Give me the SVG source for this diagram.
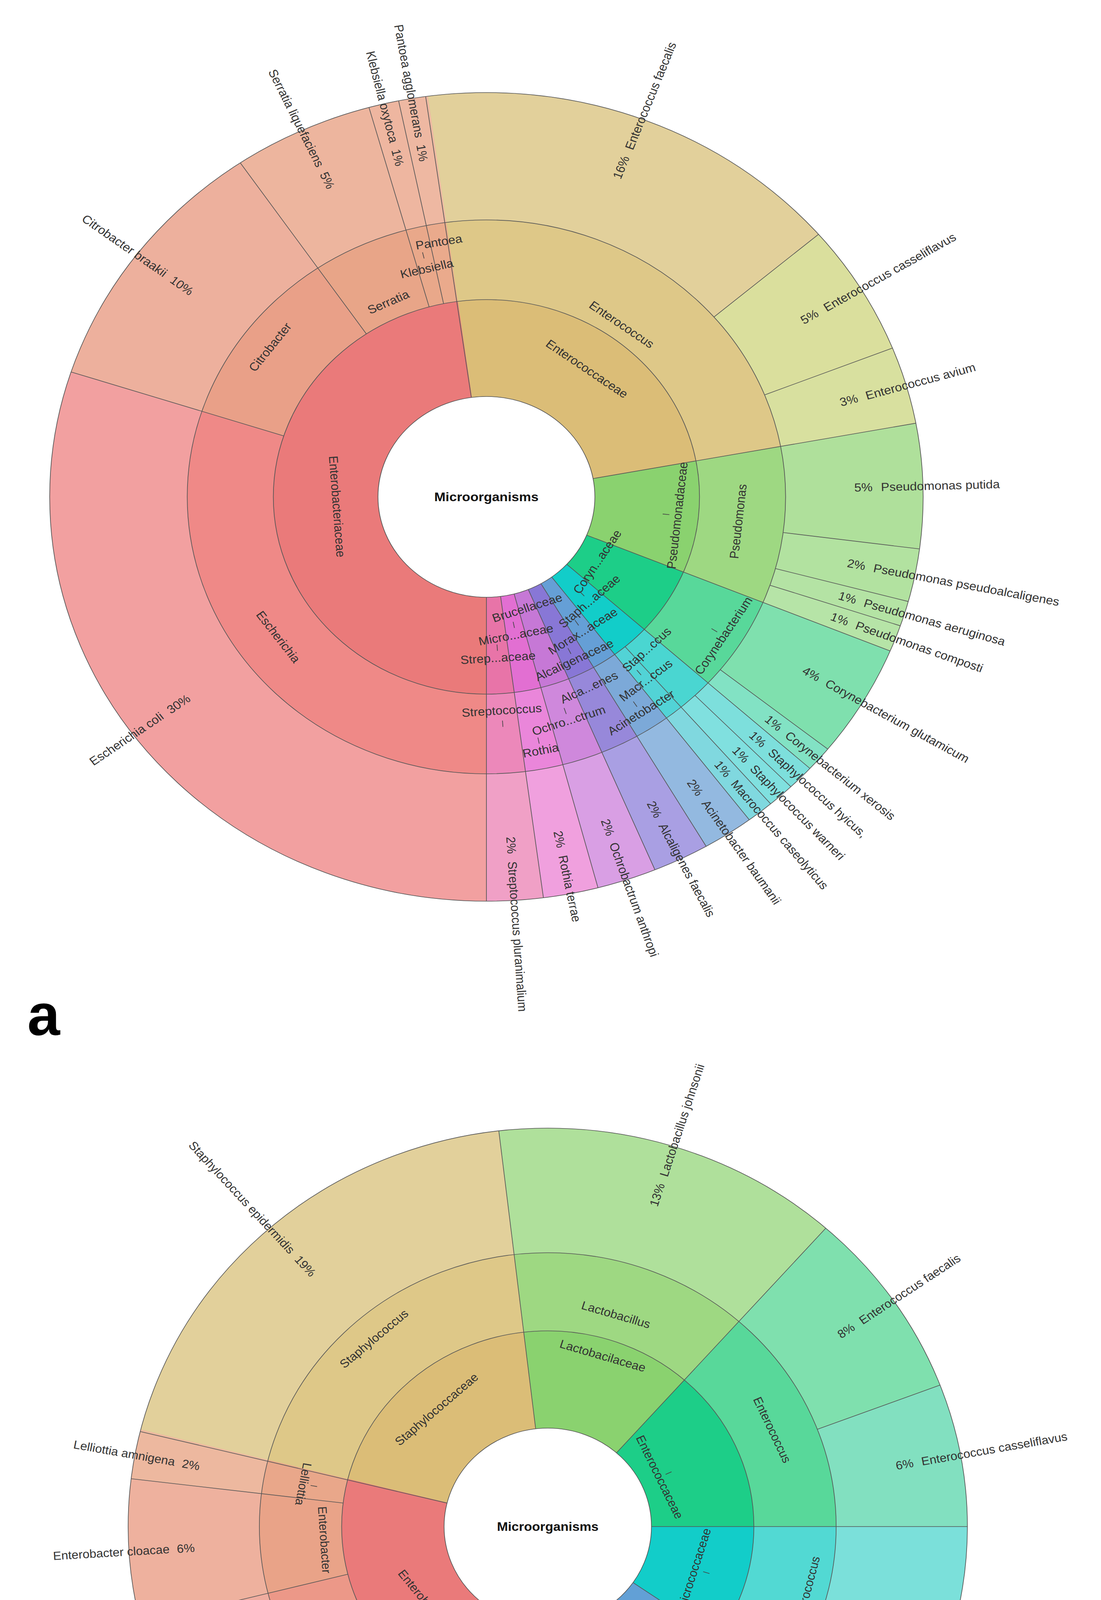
<svg xmlns="http://www.w3.org/2000/svg" width="2818" height="5322" viewBox="0 0 2818 5322">
<style>
.s{fill:none;}
.b line,.b circle{stroke:#555;stroke-width:1.6;fill:none;}
text{font-family:"Liberation Sans",Arial,sans-serif;font-size:30px;fill:#333;dominant-baseline:central;}
.t{text-anchor:middle;}
.e{text-anchor:end;}
.c{font-weight:bold;font-size:32px;fill:#111;text-anchor:middle;}
.tk{stroke:#444;stroke-width:1.6;}
.big{font-family:"Liberation Sans",Arial,sans-serif;font-weight:bold;font-size:150px;fill:#000;dominant-baseline:auto;}
</style>
<rect width="2818" height="5322" fill="#fff"/>
<g id="chartA" transform="translate(1245,1272) scale(1.08,1)">
<g id="a-family">
<g id="a-Enterococcaceae"><circle class="s" r="381" stroke="#dbbd77" stroke-width="248" pathLength="360" stroke-dasharray="87.8 400" transform="rotate(-98)"/></g>
<g id="a-Pseudomonadaceae"><circle class="s" r="381" stroke="#8ad26f" stroke-width="248" pathLength="360" stroke-dasharray="33.2 400" transform="rotate(-10.5)"/></g>
<g id="a-Corynebacteriaceae"><circle class="s" r="381" stroke="#1dce88" stroke-width="248" pathLength="360" stroke-dasharray="20.1 400" transform="rotate(22.4)"/></g>
<g id="a-Staphylococcaceae"><circle class="s" r="381" stroke="#12cdc9" stroke-width="248" pathLength="360" stroke-dasharray="11.1 400" transform="rotate(42.2)"/></g>
<g id="a-Moraxellaceae"><circle class="s" r="381" stroke="#659fd6" stroke-width="248" pathLength="360" stroke-dasharray="7.1 400" transform="rotate(53)"/></g>
<g id="a-Alcaligenaceae"><circle class="s" r="381" stroke="#8877d6" stroke-width="248" pathLength="360" stroke-dasharray="7.8 400" transform="rotate(59.8)"/></g>
<g id="a-Brucellaceae"><circle class="s" r="381" stroke="#c678d6" stroke-width="248" pathLength="360" stroke-dasharray="8.2 400" transform="rotate(67.3)"/></g>
<g id="a-Micrococcaceae"><circle class="s" r="381" stroke="#e26fd2" stroke-width="248" pathLength="360" stroke-dasharray="7.6 400" transform="rotate(75.2)"/></g>
<g id="a-Streptococcaceae"><circle class="s" r="381" stroke="#e874a8" stroke-width="248" pathLength="360" stroke-dasharray="7.8 400" transform="rotate(82.5)"/></g>
<g id="a-Enterobacteriaceae"><circle class="s" r="381" stroke="#ea7a7a" stroke-width="248" pathLength="360" stroke-dasharray="172.3 400" transform="rotate(90)"/></g>
</g>
<g id="a-genus">
<g id="a-Enterococcus"><circle class="s" r="607" stroke="#dec888" stroke-width="204" pathLength="360" stroke-dasharray="87.8 400" transform="rotate(-98)"/></g>
<g id="a-Pseudomonas"><circle class="s" r="607" stroke="#9ed882" stroke-width="204" pathLength="360" stroke-dasharray="33.2 400" transform="rotate(-10.5)"/></g>
<g id="a-Corynebacterium"><circle class="s" r="607" stroke="#58d89a" stroke-width="204" pathLength="360" stroke-dasharray="20.1 400" transform="rotate(22.4)"/></g>
<g id="a-Staphylococcus"><circle class="s" r="607" stroke="#4ad6d1" stroke-width="204" pathLength="360" stroke-dasharray="7.5 400" transform="rotate(42.2)"/></g>
<g id="a-Macrococcus"><circle class="s" r="607" stroke="#52d3d6" stroke-width="204" pathLength="360" stroke-dasharray="3.9 400" transform="rotate(49.4)"/></g>
<g id="a-Acinetobacter"><circle class="s" r="607" stroke="#7ca9d8" stroke-width="204" pathLength="360" stroke-dasharray="7.1 400" transform="rotate(53)"/></g>
<g id="a-Alcaligenes"><circle class="s" r="607" stroke="#9788da" stroke-width="204" pathLength="360" stroke-dasharray="7.8 400" transform="rotate(59.8)"/></g>
<g id="a-Ochrobactrum"><circle class="s" r="607" stroke="#cf88dc" stroke-width="204" pathLength="360" stroke-dasharray="8.2 400" transform="rotate(67.3)"/></g>
<g id="a-Rothia"><circle class="s" r="607" stroke="#ea86da" stroke-width="204" pathLength="360" stroke-dasharray="7.6 400" transform="rotate(75.2)"/></g>
<g id="a-Streptococcus"><circle class="s" r="607" stroke="#ec88ba" stroke-width="204" pathLength="360" stroke-dasharray="7.8 400" transform="rotate(82.5)"/></g>
<g id="a-Escherichia"><circle class="s" r="607" stroke="#ef8987" stroke-width="204" pathLength="360" stroke-dasharray="108.3 400" transform="rotate(90)"/></g>
<g id="a-Citrobacter"><circle class="s" r="607" stroke="#e9a088" stroke-width="204" pathLength="360" stroke-dasharray="38 400" transform="rotate(198)"/></g>
<g id="a-Serratia"><circle class="s" r="607" stroke="#e8a588" stroke-width="204" pathLength="360" stroke-dasharray="19 400" transform="rotate(235.7)"/></g>
<g id="a-Klebsiella"><circle class="s" r="607" stroke="#e9a88a" stroke-width="204" pathLength="360" stroke-dasharray="4.3 400" transform="rotate(254.4)"/></g>
<g id="a-Pantoea"><circle class="s" r="607" stroke="#eaaa8c" stroke-width="204" pathLength="360" stroke-dasharray="3.9 400" transform="rotate(258.4)"/></g>
</g>
<g id="a-species">
<g id="a-sp1"><circle class="s" r="872" stroke="#e2d09b" stroke-width="326" pathLength="360" stroke-dasharray="57.8 400" transform="rotate(-98)"/></g>
<g id="a-sp2"><circle class="s" r="872" stroke="#dadf9d" stroke-width="326" pathLength="360" stroke-dasharray="19.2 400" transform="rotate(-40.5)"/></g>
<g id="a-sp3"><circle class="s" r="872" stroke="#d8e09f" stroke-width="326" pathLength="360" stroke-dasharray="11.4 400" transform="rotate(-21.6)"/></g>
<g id="a-sp4"><circle class="s" r="872" stroke="#afe09b" stroke-width="326" pathLength="360" stroke-dasharray="18.2 400" transform="rotate(-10.5)"/></g>
<g id="a-sp5"><circle class="s" r="872" stroke="#b2e2a0" stroke-width="326" pathLength="360" stroke-dasharray="7.9 400" transform="rotate(7.4)"/></g>
<g id="a-sp6"><circle class="s" r="872" stroke="#b4e3a4" stroke-width="326" pathLength="360" stroke-dasharray="3.9 400" transform="rotate(15)"/></g>
<g id="a-sp7"><circle class="s" r="872" stroke="#b6e4a7" stroke-width="326" pathLength="360" stroke-dasharray="4.1 400" transform="rotate(18.6)"/></g>
<g id="a-sp8"><circle class="s" r="872" stroke="#7fe0ae" stroke-width="326" pathLength="360" stroke-dasharray="16.5 400" transform="rotate(22.4)"/></g>
<g id="a-sp9"><circle class="s" r="872" stroke="#82e2c4" stroke-width="326" pathLength="360" stroke-dasharray="3.9 400" transform="rotate(38.6)"/></g>
<g id="a-sp10"><circle class="s" r="872" stroke="#7ddfdc" stroke-width="326" pathLength="360" stroke-dasharray="3.9 400" transform="rotate(42.2)"/></g>
<g id="a-sp11"><circle class="s" r="872" stroke="#80e0df" stroke-width="326" pathLength="360" stroke-dasharray="3.9 400" transform="rotate(45.8)"/></g>
<g id="a-sp12"><circle class="s" r="872" stroke="#80d8df" stroke-width="326" pathLength="360" stroke-dasharray="3.9 400" transform="rotate(49.4)"/></g>
<g id="a-sp13"><circle class="s" r="872" stroke="#93b9e0" stroke-width="326" pathLength="360" stroke-dasharray="7.1 400" transform="rotate(53)"/></g>
<g id="a-sp14"><circle class="s" r="872" stroke="#a99fe3" stroke-width="326" pathLength="360" stroke-dasharray="7.8 400" transform="rotate(59.8)"/></g>
<g id="a-sp15"><circle class="s" r="872" stroke="#d99fe4" stroke-width="326" pathLength="360" stroke-dasharray="8.2 400" transform="rotate(67.3)"/></g>
<g id="a-sp16"><circle class="s" r="872" stroke="#f0a0de" stroke-width="326" pathLength="360" stroke-dasharray="7.6 400" transform="rotate(75.2)"/></g>
<g id="a-sp17"><circle class="s" r="872" stroke="#f0a0c6" stroke-width="326" pathLength="360" stroke-dasharray="7.8 400" transform="rotate(82.5)"/></g>
<g id="a-sp18"><circle class="s" r="872" stroke="#f2a0a0" stroke-width="326" pathLength="360" stroke-dasharray="108.3 400" transform="rotate(90)"/></g>
<g id="a-sp19"><circle class="s" r="872" stroke="#edb09d" stroke-width="326" pathLength="360" stroke-dasharray="38 400" transform="rotate(198)"/></g>
<g id="a-sp20"><circle class="s" r="872" stroke="#edb59e" stroke-width="326" pathLength="360" stroke-dasharray="19 400" transform="rotate(235.7)"/></g>
<g id="a-sp21"><circle class="s" r="872" stroke="#eeb6a0" stroke-width="326" pathLength="360" stroke-dasharray="4.3 400" transform="rotate(254.4)"/></g>
<g id="a-sp22"><circle class="s" r="872" stroke="#eeb8a2" stroke-width="326" pathLength="360" stroke-dasharray="3.9 400" transform="rotate(258.4)"/></g>
</g>
<g id="a-borders" class="b">
<circle r="505"/><circle r="709"/><circle r="1035"/>
<g transform="rotate(-8)"><line x1="0" y1="-257" x2="0" y2="-1035"/></g>
<g transform="rotate(79.5)"><line x1="0" y1="-257" x2="0" y2="-1035"/></g>
<g transform="rotate(112.4)"><line x1="0" y1="-257" x2="0" y2="-1035"/></g>
<g transform="rotate(132.2)"><line x1="0" y1="-257" x2="0" y2="-1035"/></g>
<g transform="rotate(143)"><line x1="0" y1="-257" x2="0" y2="-1035"/></g>
<g transform="rotate(149.8)"><line x1="0" y1="-257" x2="0" y2="-1035"/></g>
<g transform="rotate(157.3)"><line x1="0" y1="-257" x2="0" y2="-1035"/></g>
<g transform="rotate(165.2)"><line x1="0" y1="-257" x2="0" y2="-1035"/></g>
<g transform="rotate(172.5)"><line x1="0" y1="-257" x2="0" y2="-1035"/></g>
<g transform="rotate(180)"><line x1="0" y1="-257" x2="0" y2="-1035"/></g>
<g transform="rotate(139.4)"><line x1="0" y1="-505" x2="0" y2="-1035"/></g>
<g transform="rotate(288)"><line x1="0" y1="-505" x2="0" y2="-1035"/></g>
<g transform="rotate(325.7)"><line x1="0" y1="-505" x2="0" y2="-1035"/></g>
<g transform="rotate(344.4)"><line x1="0" y1="-505" x2="0" y2="-1035"/></g>
<g transform="rotate(348.4)"><line x1="0" y1="-505" x2="0" y2="-1035"/></g>
<g transform="rotate(49.5)"><line x1="0" y1="-709" x2="0" y2="-1035"/></g>
<g transform="rotate(68.4)"><line x1="0" y1="-709" x2="0" y2="-1035"/></g>
<g transform="rotate(97.4)"><line x1="0" y1="-709" x2="0" y2="-1035"/></g>
<g transform="rotate(105)"><line x1="0" y1="-709" x2="0" y2="-1035"/></g>
<g transform="rotate(108.6)"><line x1="0" y1="-709" x2="0" y2="-1035"/></g>
<g transform="rotate(128.6)"><line x1="0" y1="-709" x2="0" y2="-1035"/></g>
<g transform="rotate(135.8)"><line x1="0" y1="-709" x2="0" y2="-1035"/></g>
</g>
<g id="a-root"><circle r="257" fill="#fff" stroke="#555" stroke-width="1.6"/><text class="c">Microorganisms</text></g>
<g id="a-labels">
<text class="t" transform="rotate(36) translate(0,-405)">Enterococcaceae</text>
<text class="t" transform="rotate(96) translate(0,-455) rotate(180)">Pseudomonadaceae</text><line class="tk" transform="rotate(96)" x1="0" y1="-420" x2="0" y2="-436"/>
<text class="t" transform="rotate(122.3) translate(0,-311) rotate(180)">Coryn...aceae</text>
<text class="t" transform="rotate(137.6) translate(0,-362) rotate(180)">Staph...aceae</text><line class="tk" transform="rotate(137.6)" x1="0" y1="-328" x2="0" y2="-344"/>
<text class="t" transform="rotate(146.4) translate(0,-413) rotate(180)">Morax...aceae</text><line class="tk" transform="rotate(146.4)" x1="0" y1="-379" x2="0" y2="-395"/>
<text class="t" transform="rotate(153.5) translate(0,-467) rotate(180)">Alcaligenaceae</text><line class="tk" transform="rotate(153.5)" x1="0" y1="-433" x2="0" y2="-449"/>
<text class="t" transform="rotate(161.2) translate(0,-300) rotate(180)">Brucellaceae</text>
<text class="t" transform="rotate(168.8) translate(0,-360) rotate(180)">Micro...aceae</text><line class="tk" transform="rotate(168.8)" x1="0" y1="-326" x2="0" y2="-342"/>
<text class="t" transform="rotate(176.2) translate(0,-413) rotate(180)">Strep...aceae</text><line class="tk" transform="rotate(176.2)" x1="0" y1="-379" x2="0" y2="-395"/>
<text class="t" transform="rotate(266) translate(0,-355) rotate(180)">Enterobacteriaceae</text>
<text class="t" transform="rotate(36) translate(0,-545)">Enterococcus</text>
<text class="t" transform="rotate(96) translate(0,-600) rotate(180)">Pseudomonas</text>
<text class="t" transform="rotate(122.3) translate(0,-665) rotate(180)">Corynebacterium</text><line class="tk" transform="rotate(122.3)" x1="0" y1="-631" x2="0" y2="-647"/>
<text class="t" transform="rotate(135.8) translate(0,-545) rotate(180)">Stap...ccus</text>
<text class="t" transform="rotate(141.2) translate(0,-603) rotate(180)">Macr...ccus</text><line class="tk" transform="rotate(141.2)" x1="0" y1="-569" x2="0" y2="-585"/>
<text class="t" transform="rotate(146.4) translate(0,-663) rotate(180)">Acinetobacter</text><line class="tk" transform="rotate(146.4)" x1="0" y1="-629" x2="0" y2="-645"/>
<text class="t" transform="rotate(153.5) translate(0,-545) rotate(180)">Alca...enes</text>
<text class="t" transform="rotate(161.2) translate(0,-605) rotate(180)">Ochro...ctrum</text><line class="tk" transform="rotate(161.2)" x1="0" y1="-571" x2="0" y2="-587"/>
<text class="t" transform="rotate(168.8) translate(0,-662) rotate(180)">Rothia</text><line class="tk" transform="rotate(168.8)" x1="0" y1="-628" x2="0" y2="-644"/>
<text class="t" transform="rotate(176.2) translate(0,-548) rotate(180)">Streptococcus</text><line class="tk" transform="rotate(176.2)" x1="0" y1="-574" x2="0" y2="-590"/>
<text class="t" transform="rotate(234) translate(0,-610) rotate(180)">Escherichia</text>
<text class="t" transform="rotate(306.8) translate(0,-640)">Citrobacter</text>
<text class="t" transform="rotate(335) translate(0,-550)">Serratia</text>
<text class="t" transform="rotate(346.4) translate(0,-601)">Klebsiella</text>
<text class="t" transform="rotate(350.2) translate(0,-662)">Pantoea</text><line class="tk" transform="rotate(346.4)" x1="0" y1="-628" x2="0" y2="-644"/>
<text transform="rotate(20.75) translate(0,-872) rotate(-90)">16%<tspan dx="20">Enterococcus faecalis</tspan></text>
<text transform="rotate(58.95) translate(0,-872) rotate(-90)">5%<tspan dx="20">Enterococcus casseliflavus</tspan></text>
<text transform="rotate(73.95) translate(0,-872) rotate(-90)">3%<tspan dx="20">Enterococcus avium</tspan></text>
<text transform="rotate(88.45) translate(0,-872) rotate(-90)">5%<tspan dx="20">Pseudomonas putida</tspan></text>
<text transform="rotate(101.2) translate(0,-872) rotate(-90)">2%<tspan dx="20">Pseudomonas pseudoalcaligenes</tspan></text>
<text transform="rotate(106.8) translate(0,-872) rotate(-90)">1%<tspan dx="20">Pseudomonas aeruginosa</tspan></text>
<text transform="rotate(110.5) translate(0,-872) rotate(-90)">1%<tspan dx="20">Pseudomonas composti</tspan></text>
<text transform="rotate(120.5) translate(0,-872) rotate(-90)">4%<tspan dx="20">Corynebacterium glutamicum</tspan></text>
<text transform="rotate(130.4) translate(0,-872) rotate(-90)">1%<tspan dx="20">Corynebacterium xerosis</tspan></text>
<text transform="rotate(134) translate(0,-872) rotate(-90)">1%<tspan dx="20">Staphylococcus hyicus,</tspan></text>
<text transform="rotate(137.6) translate(0,-872) rotate(-90)">1%<tspan dx="20">Staphylococcus warneri</tspan></text>
<text transform="rotate(141.2) translate(0,-872) rotate(-90)">1%<tspan dx="20">Macrococcus caseolyticus</tspan></text>
<text transform="rotate(146.4) translate(0,-872) rotate(-90)">2%<tspan dx="20">Acinetobacter baumanii</tspan></text>
<text transform="rotate(153.55) translate(0,-872) rotate(-90)">2%<tspan dx="20">Alcaligenes faecalis</tspan></text>
<text transform="rotate(161.25) translate(0,-872) rotate(-90)">2%<tspan dx="20">Ochrobactrum anthropi</tspan></text>
<text transform="rotate(168.85) translate(0,-872) rotate(-90)">2%<tspan dx="20">Rothia terrae</tspan></text>
<text transform="rotate(176.25) translate(0,-872) rotate(-90)">2%<tspan dx="20">Streptococcus pluranimalium</tspan></text>
<text class="e" transform="rotate(234) translate(0,-872) rotate(90)">Escherichia coli<tspan dx="18">30%</tspan></text>
<text class="e" transform="rotate(306.85) translate(0,-872) rotate(90)">Citrobacter braakii<tspan dx="18">10%</tspan></text>
<text class="e" transform="rotate(335.05) translate(0,-872) rotate(90)">Serratia liquefaciens<tspan dx="18">5%</tspan></text>
<text class="e" transform="rotate(346.4) translate(0,-872) rotate(90)">Klebsiella oxytoca<tspan dx="18">1%</tspan></text>
<text class="e" transform="rotate(350.2) translate(0,-872) rotate(90)">Pantoea agglomerans<tspan dx="18">1%</tspan></text>
</g>
</g>

<g id="chartB" transform="translate(1402,3908) scale(1.053,1)">
<g id="b-family">
<g id="b-Staphylococcaceae"><circle class="s" r="376.5" stroke="#dbbd77" stroke-width="249" pathLength="360" stroke-dasharray="69.8 400" transform="rotate(193.8)"/></g>
<g id="b-Lactobacilaceae"><circle class="s" r="376.5" stroke="#8ad26f" stroke-width="249" pathLength="360" stroke-dasharray="48.5 400" transform="rotate(263.3)"/></g>
<g id="b-Enterococcaceae"><circle class="s" r="376.5" stroke="#1dce88" stroke-width="249" pathLength="360" stroke-dasharray="48.8 400" transform="rotate(-48.5)"/></g>
<g id="b-Micrococcaceae"><circle class="s" r="376.5" stroke="#12cdc9" stroke-width="249" pathLength="360" stroke-dasharray="35 400" transform="rotate(0)"/></g>
<g id="b-Brucellaceae"><circle class="s" r="376.5" stroke="#62a0d6" stroke-width="249" pathLength="360" stroke-dasharray="21.3 400" transform="rotate(34.7)"/></g>
<g id="b-Bacillaceae"><circle class="s" r="376.5" stroke="#8877d6" stroke-width="249" pathLength="360" stroke-dasharray="14.2 400" transform="rotate(55.7)"/></g>
<g id="b-Moraxellaceae"><circle class="s" r="376.5" stroke="#c678d6" stroke-width="249" pathLength="360" stroke-dasharray="7.1 400" transform="rotate(69.6)"/></g>
<g id="b-Alcaligenaceae"><circle class="s" r="376.5" stroke="#e670d2" stroke-width="249" pathLength="360" stroke-dasharray="7 400" transform="rotate(76.4)"/></g>
<g id="b-Streptococcaceae"><circle class="s" r="376.5" stroke="#e874a8" stroke-width="249" pathLength="360" stroke-dasharray="7.2 400" transform="rotate(83.1)"/></g>
<g id="b-Enterobacteriaceae"><circle class="s" r="376.5" stroke="#ea7a7a" stroke-width="249" pathLength="360" stroke-dasharray="104.1 400" transform="rotate(90)"/></g>
</g>
<g id="b-genus">
<g id="b-Staphylococcus"><circle class="s" r="601" stroke="#dec888" stroke-width="200" pathLength="360" stroke-dasharray="69.8 400" transform="rotate(193.8)"/></g>
<g id="b-Lactobacillus"><circle class="s" r="601" stroke="#9ed882" stroke-width="200" pathLength="360" stroke-dasharray="48.5 400" transform="rotate(263.3)"/></g>
<g id="b-Enterococcus"><circle class="s" r="601" stroke="#58d89a" stroke-width="200" pathLength="360" stroke-dasharray="48.8 400" transform="rotate(-48.5)"/></g>
<g id="b-Micrococcus"><circle class="s" r="601" stroke="#52d9d3" stroke-width="200" pathLength="360" stroke-dasharray="28.2 400" transform="rotate(0)"/></g>
<g id="b-Glutamicibacter"><circle class="s" r="601" stroke="#5ec8d9" stroke-width="200" pathLength="360" stroke-dasharray="7.1 400" transform="rotate(27.9)"/></g>
<g id="b-Ochrobactrum"><circle class="s" r="601" stroke="#7aacd8" stroke-width="200" pathLength="360" stroke-dasharray="21.3 400" transform="rotate(34.7)"/></g>
<g id="b-Bacillus"><circle class="s" r="601" stroke="#9a8cdc" stroke-width="200" pathLength="360" stroke-dasharray="14.2 400" transform="rotate(55.7)"/></g>
<g id="b-Acinetobacter"><circle class="s" r="601" stroke="#d08ade" stroke-width="200" pathLength="360" stroke-dasharray="7.1 400" transform="rotate(69.6)"/></g>
<g id="b-Oligella"><circle class="s" r="601" stroke="#ec86da" stroke-width="200" pathLength="360" stroke-dasharray="7 400" transform="rotate(76.4)"/></g>
<g id="b-Streptococcus"><circle class="s" r="601" stroke="#ec88ba" stroke-width="200" pathLength="360" stroke-dasharray="7.2 400" transform="rotate(83.1)"/></g>
<g id="b-Escherichia"><circle class="s" r="601" stroke="#ef8987" stroke-width="200" pathLength="360" stroke-dasharray="41.6 400" transform="rotate(90)"/></g>
<g id="b-Citrobacter"><circle class="s" r="601" stroke="#ec9888" stroke-width="200" pathLength="360" stroke-dasharray="34.9 400" transform="rotate(131.3)"/></g>
<g id="b-Enterobacter"><circle class="s" r="601" stroke="#e9a388" stroke-width="200" pathLength="360" stroke-dasharray="21.3 400" transform="rotate(165.9)"/></g>
<g id="b-Lelliottia"><circle class="s" r="601" stroke="#e9a78a" stroke-width="200" pathLength="360" stroke-dasharray="7.2 400" transform="rotate(186.9)"/></g>
</g>
<g id="b-species">
<g id="b-sp1"><circle class="s" r="860.5" stroke="#e2d09b" stroke-width="319" pathLength="360" stroke-dasharray="69.8 400" transform="rotate(193.8)"/></g>
<g id="b-sp2"><circle class="s" r="860.5" stroke="#afe09b" stroke-width="319" pathLength="360" stroke-dasharray="48.5 400" transform="rotate(263.3)"/></g>
<g id="b-sp3"><circle class="s" r="860.5" stroke="#7fe0ae" stroke-width="319" pathLength="360" stroke-dasharray="28 400" transform="rotate(-48.5)"/></g>
<g id="b-sp4"><circle class="s" r="860.5" stroke="#82e0c0" stroke-width="319" pathLength="360" stroke-dasharray="21.1 400" transform="rotate(-20.8)"/></g>
<g id="b-sp5"><circle class="s" r="860.5" stroke="#7be0da" stroke-width="319" pathLength="360" stroke-dasharray="28.2 400" transform="rotate(0)"/></g>
<g id="b-sp6"><circle class="s" r="860.5" stroke="#86d3e1" stroke-width="319" pathLength="360" stroke-dasharray="7.1 400" transform="rotate(27.9)"/></g>
<g id="b-sp7"><circle class="s" r="860.5" stroke="#94bbe0" stroke-width="319" pathLength="360" stroke-dasharray="21.3 400" transform="rotate(34.7)"/></g>
<g id="b-sp8"><circle class="s" r="860.5" stroke="#a99fe3" stroke-width="319" pathLength="360" stroke-dasharray="14.2 400" transform="rotate(55.7)"/></g>
<g id="b-sp9"><circle class="s" r="860.5" stroke="#d99fe4" stroke-width="319" pathLength="360" stroke-dasharray="7.1 400" transform="rotate(69.6)"/></g>
<g id="b-sp10"><circle class="s" r="860.5" stroke="#f0a0de" stroke-width="319" pathLength="360" stroke-dasharray="7 400" transform="rotate(76.4)"/></g>
<g id="b-sp11"><circle class="s" r="860.5" stroke="#f0a0c6" stroke-width="319" pathLength="360" stroke-dasharray="7.2 400" transform="rotate(83.1)"/></g>
<g id="b-sp12"><circle class="s" r="860.5" stroke="#f2a0a0" stroke-width="319" pathLength="360" stroke-dasharray="41.6 400" transform="rotate(90)"/></g>
<g id="b-sp13"><circle class="s" r="860.5" stroke="#efac9f" stroke-width="319" pathLength="360" stroke-dasharray="34.9 400" transform="rotate(131.3)"/></g>
<g id="b-sp14"><circle class="s" r="860.5" stroke="#eeb19e" stroke-width="319" pathLength="360" stroke-dasharray="21.3 400" transform="rotate(165.9)"/></g>
<g id="b-sp15"><circle class="s" r="860.5" stroke="#edb89f" stroke-width="319" pathLength="360" stroke-dasharray="7.2 400" transform="rotate(186.9)"/></g>
</g>
<g id="b-borders" class="b">
<circle r="501"/><circle r="701"/><circle r="1020"/>
<g transform="rotate(283.8)"><line x1="0" y1="-252" x2="0" y2="-1020"/></g>
<g transform="rotate(353.3)"><line x1="0" y1="-252" x2="0" y2="-1020"/></g>
<g transform="rotate(41.5)"><line x1="0" y1="-252" x2="0" y2="-1020"/></g>
<g transform="rotate(90)"><line x1="0" y1="-252" x2="0" y2="-1020"/></g>
<g transform="rotate(124.7)"><line x1="0" y1="-252" x2="0" y2="-1020"/></g>
<g transform="rotate(145.7)"><line x1="0" y1="-252" x2="0" y2="-1020"/></g>
<g transform="rotate(159.6)"><line x1="0" y1="-252" x2="0" y2="-1020"/></g>
<g transform="rotate(166.4)"><line x1="0" y1="-252" x2="0" y2="-1020"/></g>
<g transform="rotate(173.1)"><line x1="0" y1="-252" x2="0" y2="-1020"/></g>
<g transform="rotate(180)"><line x1="0" y1="-252" x2="0" y2="-1020"/></g>
<g transform="rotate(117.9)"><line x1="0" y1="-501" x2="0" y2="-1020"/></g>
<g transform="rotate(221.3)"><line x1="0" y1="-501" x2="0" y2="-1020"/></g>
<g transform="rotate(255.9)"><line x1="0" y1="-501" x2="0" y2="-1020"/></g>
<g transform="rotate(276.9)"><line x1="0" y1="-501" x2="0" y2="-1020"/></g>
<g transform="rotate(69.2)"><line x1="0" y1="-701" x2="0" y2="-1020"/></g>
</g>
<g id="b-root"><circle r="252" fill="#fff" stroke="#555" stroke-width="1.6"/><text class="c">Microorganisms</text></g>
<g id="b-labels">
<text class="t" transform="rotate(318) translate(0,-404)">Staphylococcaceae</text>
<text class="t" transform="rotate(17) translate(0,-457)">Lactobacilaceae</text>
<text class="t" transform="rotate(65) translate(0,-300)">Enterococcaceae</text><line class="tk" transform="rotate(65)" x1="0" y1="-316" x2="0" y2="-332"/>
<text class="t" transform="rotate(107) translate(0,-372) rotate(180)">Micrococcaceae</text><line class="tk" transform="rotate(107)" x1="0" y1="-395" x2="0" y2="-411"/>
<text class="t" transform="rotate(135.2) translate(0,-389) rotate(180)">Brucellaceae</text><line class="tk" transform="rotate(135.2)" x1="0" y1="-355" x2="0" y2="-371"/>
<text class="t" transform="rotate(152.65) translate(0,-455) rotate(180)">Bacillaceae</text><line class="tk" transform="rotate(152.65)" x1="0" y1="-421" x2="0" y2="-437"/>
<text class="t" transform="rotate(163) translate(0,-297) rotate(180)">Moraxellaceae</text>
<text class="t" transform="rotate(169.75) translate(0,-354) rotate(180)">Alcaligenaceae</text><line class="tk" transform="rotate(169.75)" x1="0" y1="-320" x2="0" y2="-336"/>
<text class="t" transform="rotate(176.55) translate(0,-403) rotate(180)">Streptocaccaceae</text><line class="tk" transform="rotate(176.55)" x1="0" y1="-369" x2="0" y2="-385"/>
<text class="t" transform="rotate(232) translate(0,-352) rotate(180)">Enterobacteriaceae</text>
<text class="t" transform="rotate(318.7) translate(0,-640)">Staphylococcus</text>
<text class="t" transform="rotate(17) translate(0,-567)">Lactobacillus</text>
<text class="t" transform="rotate(65.6) translate(0,-599)">Enterococcus</text>
<text class="t" transform="rotate(104) translate(0,-651) rotate(180)">Micrococcus</text>
<text class="t" transform="rotate(121.3) translate(0,-548) rotate(180)">Glutamicibacter</text><line class="tk" transform="rotate(121.3)" x1="0" y1="-574" x2="0" y2="-590"/>
<text class="t" transform="rotate(135.2) translate(0,-599) rotate(180)">Ochrobactrum</text><line class="tk" transform="rotate(135.2)" x1="0" y1="-625" x2="0" y2="-641"/>
<text class="t" transform="rotate(152.6) translate(0,-635) rotate(180)">Bacillus</text>
<text class="t" transform="rotate(163) translate(0,-540) rotate(180)">Acinetobacter</text><line class="tk" transform="rotate(163)" x1="0" y1="-566" x2="0" y2="-582"/>
<text class="t" transform="rotate(169.7) translate(0,-598) rotate(180)">Oligella</text><line class="tk" transform="rotate(169.7)" x1="0" y1="-624" x2="0" y2="-640"/>
<text class="t" transform="rotate(176.5) translate(0,-656) rotate(180)">Streptococcus</text>
<text class="t" transform="rotate(200.6) translate(0,-599) rotate(180)">Escherichia</text>
<text class="t" transform="rotate(238) translate(0,-640) rotate(180)">Citrobacter</text>
<text class="t" transform="rotate(266.4) translate(0,-544) rotate(180)">Enterobacter</text>
<text class="t" transform="rotate(280.35) translate(0,-604) rotate(180)">Lelliottia</text><line class="tk" transform="rotate(280.35)" x1="0" y1="-570" x2="0" y2="-586"/>
<text class="e" transform="rotate(318.55) translate(0,-860) rotate(90)">Staphylococcus epidermidis<tspan dx="18">19%</tspan></text>
<text transform="rotate(17.4) translate(0,-860) rotate(-90)">13%<tspan dx="20">Lactobacillus johnsonii</tspan></text>
<text transform="rotate(55.35) translate(0,-860) rotate(-90)">8%<tspan dx="20">Enterococcus faecalis</tspan></text>
<text transform="rotate(79.6) translate(0,-860) rotate(-90)">6%<tspan dx="20">Enterococcus casseliflavus</tspan></text>
<text transform="rotate(103.95) translate(0,-860) rotate(-90)">8%<tspan dx="20">Micrococcus luteus</tspan></text>
<text transform="rotate(121.3) translate(0,-860) rotate(-90)">2%<tspan dx="20">Glutamicibacter creatinolyticus</tspan></text>
<text transform="rotate(135.2) translate(0,-860) rotate(-90)">6%<tspan dx="20">Ochrobactrum intermedium</tspan></text>
<text transform="rotate(152.65) translate(0,-860) rotate(-90)">4%<tspan dx="20">Bacillus oceanisediminis</tspan></text>
<text transform="rotate(163) translate(0,-860) rotate(-90)">2%<tspan dx="20">Acinetobacter guillouiae</tspan></text>
<text transform="rotate(169.75) translate(0,-860) rotate(-90)">2%<tspan dx="20">Oligella urethralis</tspan></text>
<text transform="rotate(176.55) translate(0,-860) rotate(-90)">2%<tspan dx="20">Streptococcus pluranimalium</tspan></text>
<text class="e" transform="rotate(200.65) translate(0,-860) rotate(90)">Escherichia coli<tspan dx="18">12%</tspan></text>
<text class="e" transform="rotate(238.6) translate(0,-860) rotate(90)">Citrobacter braakii<tspan dx="18">10%</tspan></text>
<text class="e" transform="rotate(266.4) translate(0,-860) rotate(90)">Enterobacter cloacae<tspan dx="18">6%</tspan></text>
<text class="e" transform="rotate(280.35) translate(0,-860) rotate(90)">Lelliottia amnigena<tspan dx="18">2%</tspan></text>
</g>
</g>
<text class="big" x="70" y="2650">a</text>
<text class="big" x="48" y="5266">b</text>
</svg>
